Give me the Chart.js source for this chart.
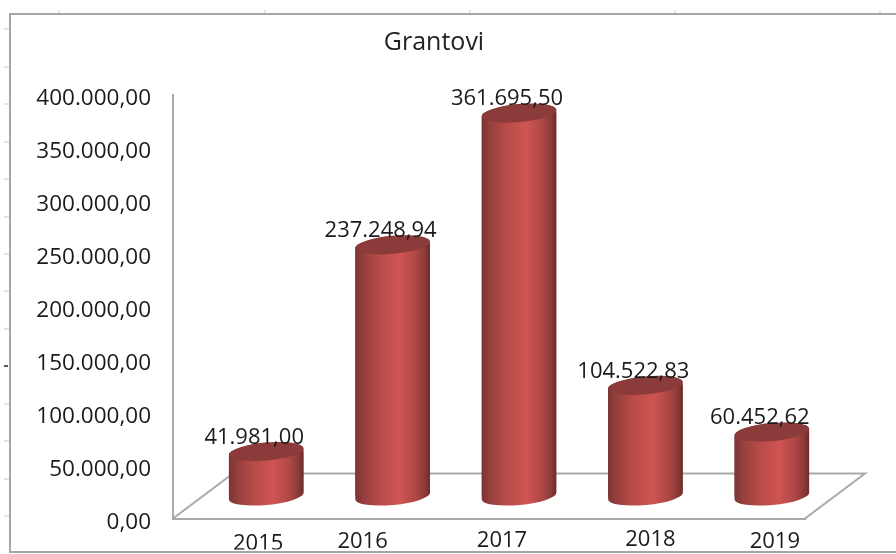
<!DOCTYPE html>
<html><head><meta charset="utf-8">
<style>html,body{margin:0;padding:0;background:#fff;overflow:hidden}#w{position:relative;width:896px;height:554px}</style>
<script src="https://cdn.jsdelivr.net/npm/chart.js@4/dist/chart.umd.min.js"></script>
</head><body><div id="w"><canvas id="c" width="896" height="554"></canvas></div>
<script>
const categories = ['2015','2016','2017','2018','2019'];
const grants = [41981.00, 237248.94, 361695.50, 104522.83, 60452.62];
const chartTitle = 'Grantovi';
const axisMax = 400000;
const axisStep = 50000;

const fmt = v => new Intl.NumberFormat('de-DE',{minimumFractionDigits:2,maximumFractionDigits:2}).format(v);
const FONT = '"Open Sans"';
const DEPTH_X = 30, DEPTH_Y = 22.5, RY = 9, TILT = -0.093;
const labelShift = [[22,6],[0,4],[13,3],[35,2],[33,4]];

function barGradient(c, x, w){
  const g = c.createLinearGradient(x-w/2,0,x+w/2,0);
  g.addColorStop(0,'#7a3432'); g.addColorStop(0.12,'#96403e'); g.addColorStop(0.35,'#ba4c49');
  g.addColorStop(0.6,'#cf5552'); g.addColorStop(0.82,'#ab4644'); g.addColorStop(0.93,'#8a3a38'); g.addColorStop(1,'#6b2d2c');
  return g;
}
const cylinder = {
  id:'cylinder',
  afterLayout(chart){ chart.titleBlock.left += 63; },
  beforeDatasetDraw(chart,args){
    const c=chart.ctx, bars=chart.getDatasetMeta(args.index).data;
    c.save(); c.translate(DEPTH_X,-DEPTH_Y);
    c.beginPath();
    bars.forEach(b=>{
      const r=b.width/2;
      c.moveTo(b.x-r*Math.cos(TILT), b.y-r*Math.sin(TILT));
      c.ellipse(b.x,b.y,r,RY,TILT,Math.PI,2*Math.PI);
      c.ellipse(b.x,b.base,r,RY,TILT,0,Math.PI);
      c.closePath();
    });
    c.clip();
  },
  afterDatasetDraw(chart,args){
    const c=chart.ctx, bars=chart.getDatasetMeta(args.index).data;
    bars.forEach(b=>{
      const r=b.width/2;
      c.fillStyle=barGradient(c,b.x,b.width);
      c.fillRect(b.x-r-1,b.y-14,b.width+2,b.base-b.y+28);
      c.fillStyle='#8b3b39';
      c.beginPath(); c.ellipse(b.x,b.y,r,RY,TILT,0,2*Math.PI); c.fill();
    });
    c.restore();
    c.save(); c.translate(DEPTH_X,-DEPTH_Y);
    c.font='22px '+FONT; c.fillStyle='#1a1a1a'; c.textAlign='center'; c.textBaseline='middle';
    bars.forEach((b,i)=>c.fillText(fmt(grants[i]), b.x-12, b.y-14));
    c.restore();
  },
  beforeDatasetsDraw(chart){
    const c=chart.ctx, a=chart.chartArea;
    c.save(); c.strokeStyle='#a9a9a9'; c.lineWidth=2;
    c.beginPath();
    c.moveTo(a.left,a.bottom); c.lineTo(a.left+DEPTH_X*2,a.bottom-DEPTH_Y*2);
    c.lineTo(a.right+DEPTH_X*2,a.bottom-DEPTH_Y*2); c.lineTo(a.right,a.bottom);
    c.stroke(); c.restore();
  },
  beforeDraw(chart){
    const c=chart.ctx;
    c.save(); c.strokeStyle='#a6a6a6'; c.lineWidth=2;
    c.beginPath(); c.moveTo(897,14); c.lineTo(10,14); c.lineTo(10,552); c.lineTo(897,552); c.stroke();
    c.strokeStyle='#d6dcec'; c.lineWidth=1.5; c.beginPath();
    [59,265,470,675,880].forEach(x=>{c.moveTo(x,10);c.lineTo(x,13);});
    [29,67,104,142,179,217,254,291,329,404,441,479,516].forEach(y=>{c.moveTo(4,y);c.lineTo(9,y);});
    c.stroke();
    c.strokeStyle='#222'; c.beginPath(); c.moveTo(4,366); c.lineTo(8,366); c.stroke();
    c.restore();
    chart.scales.x.getLabelItems().forEach((it,i)=>{
      const t=it.options.translation;
      if(!it.shifted){ t[0]+=labelShift[i][0]; t[1]+=labelShift[i][1]; it.shifted=true; }
    });
    chart.scales.y.getLabelItems().forEach(it=>{
      const t=it.options.translation;
      if(!it.shifted){ t[1]+=4; it.shifted=true; }
    });
  }
};

new Chart(document.getElementById('c'),{
  type:'bar',
  plugins:[cylinder],
  data:{labels:categories,datasets:[{
    data:grants,borderWidth:0,barPercentage:0.593,categoryPercentage:1,clip:false,
    backgroundColor(ctx){
      const ch=ctx.chart, s=ch.scales.x;
      if(!s||!ch.chartArea) return '#c0504d';
      return barGradient(ch.ctx,s.getPixelForValue(ctx.dataIndex),s.width/categories.length*0.593);
    }
  }]},
  options:{
    responsive:false,animation:false,devicePixelRatio:1,
    layout:{padding:{left:0,right:91,top:0,bottom:0}},
    plugins:{
      legend:{display:false},tooltip:{enabled:false},
      title:{display:true,text:chartTitle,color:'#222',font:{family:FONT,size:25,weight:'normal'},padding:{top:28,bottom:37}}
    },
    scales:{
      x:{
        grid:{display:false,drawTicks:false},
        border:{display:true,color:'#a9a9a9',width:2},
        ticks:{color:'#1a1a1a',font:{family:FONT,size:22},padding:6,maxRotation:0,autoSkip:false},
        afterFit(s){s.height=31;}
      },
      y:{
        min:0,max:axisMax,
        grid:{display:false,drawTicks:false},
        border:{display:true,color:'#a9a9a9',width:2},
        ticks:{stepSize:axisStep,color:'#1a1a1a',font:{family:FONT,size:22.5},padding:22,callback:v=>fmt(v)},
        afterFit(s){s.width=173;}
      }
    }
  }
});
</script></body></html>
